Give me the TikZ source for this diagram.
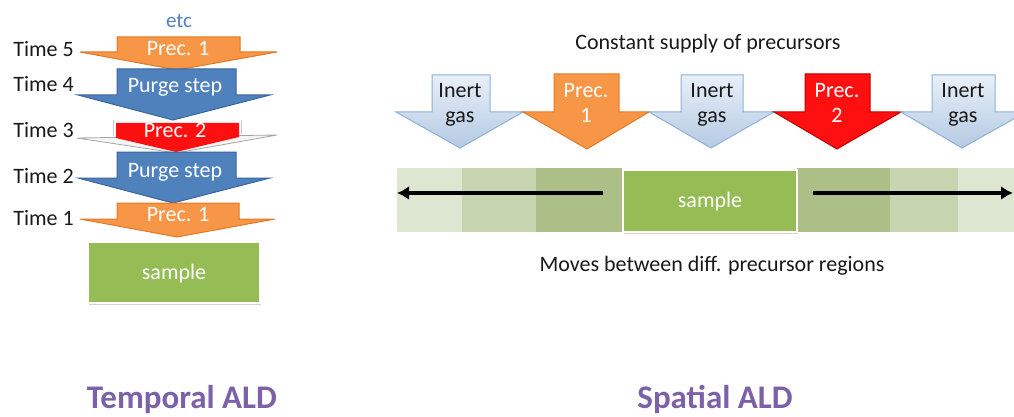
\documentclass[tikz,border=0pt]{standalone}
\usepackage{fontspec}
\setmainfont{Carlito}
\usetikzlibrary{arrows.meta,shadows}
\definecolor{orng}{HTML}{F79646}
\definecolor{orngdk}{HTML}{E07A2A}
\definecolor{blu}{HTML}{4F81BD}
\definecolor{bludk}{HTML}{3A66A0}
\definecolor{redd}{HTML}{FF1010}
\definecolor{reddk}{HTML}{C00000}
\definecolor{inertlt}{HTML}{E8EFF8}
\definecolor{inertdk}{HTML}{B5CAE3}
\definecolor{inertln}{HTML}{8DB0D9}
\definecolor{grn}{HTML}{95BC55}
\definecolor{bandA}{HTML}{DDE6D1}
\definecolor{bandB}{HTML}{C6D4AF}
\definecolor{bandC}{HTML}{ABBF87}
\definecolor{ttl}{HTML}{7C60A8}
\definecolor{etcblue}{HTML}{4F81BD}
\newcommand\dnarrow[9]{\draw[#1] (#2,#4) -- (#3,#4) -- (#3,#7) -- (#6,#7) -- (#8,#9) -- (#5,#7) -- (#2,#7) -- cycle;}
\begin{document}
\begin{tikzpicture}[x=1pt,y=-1pt,
  lbl/.style={font=\fontsize{22}{26}\selectfont, text=black!90, inner sep=0pt},
  wlbl/.style={font=\fontsize{22}{26}\selectfont, text=white, inner sep=0pt},
  orangearrow/.style={fill=orng, draw=orngdk, line width=1pt, line join=miter},
  bluearrow/.style={fill=blu, draw=bludk, line width=1pt},
  redarrow/.style={fill=redd, draw=reddk, line width=1pt},
  inertarrow/.style={top color=inertlt, bottom color=inertdk, draw=inertln, line width=1pt},
  samplebox/.style={fill=grn, draw=white, line width=2pt, drop shadow={shadow xshift=1pt, shadow yshift=-2pt, opacity=0.35}},
  title/.style={font=\fontsize{33}{38}\selectfont\bfseries, text=ttl, inner sep=0pt},
  motion/.style={line width=4.5pt, -{Latex[length=12pt,width=14pt]}}
]
\useasboundingbox (0,0) rectangle (1014,417);

% ---------- Temporal ALD ----------
\node[font=\fontsize{21}{24}\selectfont, text=etcblue, inner sep=0pt, anchor=base] (etc) at (179,28) {etc};

\dnarrow{orangearrow}{117}{240}{37}{80}{277}{52}{177}{70}
\dnarrow{bluearrow}{117}{236}{69}{78}{270}{95}{173}{120}
% Time 3 (flattened red arrow)
\draw[gray!70, line width=0.8pt, fill=gray!8] (77,138) -- (176,153) -- (277,135) -- cycle;
\draw[redarrow, draw=none] (116,123) -- (239,123) -- (239,137) -- (176,152) -- (116,138) -- cycle;
\draw[gray!40, line width=0.6pt] (113,120) -- (113,136) (241,120) -- (241,134);
\dnarrow{bluearrow}{117}{236}{152}{78}{270}{178}{173}{203}
\dnarrow{orangearrow}{117}{239}{203}{80}{275}{219}{177}{237}

\node[wlbl, anchor=base] (p5) at (178,56) {Prec. 1};
\node[wlbl, anchor=base] (p4) at (175,93) {Purge step};
\node[wlbl, anchor=base] (p3) at (175,137) {Prec. 2};
\node[wlbl, anchor=base] (p2) at (175,177) {Purge step};
\node[wlbl, anchor=base] (p1) at (178,221) {Prec. 1};

\node[lbl, anchor=base east] (t5) at (74,57) {Time 5};
\node[lbl, anchor=base east] (t4) at (74,92) {Time 4};
\node[lbl, anchor=base east] (t3) at (74,137) {Time 3};
\node[lbl, anchor=base east] (t2) at (74,183) {Time 2};
\node[lbl, anchor=base east] (t1) at (74,225) {Time 1};

\draw[samplebox] (88,242) rectangle (260,303);
\node[wlbl, anchor=base] (s1) at (174,279) {sample};

\node[title, anchor=base] (temporal) at (182,408) {Temporal ALD};

% ---------- Spatial ALD ----------
\node[lbl, anchor=base] (supply) at (708,50) {Constant supply of precursors};

\dnarrow{inertarrow}{432}{490}{75}{396}{523}{112}{460}{148}
\dnarrow{orangearrow}{554}{619}{74}{523}{649}{112}{587}{149}
\dnarrow{inertarrow}{681}{743}{75}{649}{774}{112}{711}{148}
\dnarrow{redarrow}{805}{870}{74}{774}{901}{112}{837}{149}
\dnarrow{inertarrow}{932}{995}{75}{901}{1026}{112}{962}{148}

\node[lbl, anchor=base] (i1a) at (460,98) {Inert};
\node[lbl, anchor=base] (i1b) at (460,123) {gas};
\node[wlbl, anchor=base] (q1a) at (586,98) {Prec.};
\node[wlbl, anchor=base] (q1b) at (586,123) {1};
\node[lbl, anchor=base] (i2a) at (712,98) {Inert};
\node[lbl, anchor=base] (i2b) at (712,123) {gas};
\node[wlbl, anchor=base] (q2a) at (837,98) {Prec.};
\node[wlbl, anchor=base] (q2b) at (837,123) {2};
\node[lbl, anchor=base] (i3a) at (963,98) {Inert};
\node[lbl, anchor=base] (i3b) at (963,123) {gas};

% band
\fill[bandA] (397,168) rectangle (462,232);
\fill[bandB] (462,168) rectangle (536,232);
\fill[bandC] (536,168) rectangle (622,232);
\fill[bandC] (797,168) rectangle (890,232);
\fill[bandB] (890,168) rectangle (958,232);
\fill[bandA] (958,168) rectangle (1014,232);
\draw[samplebox] (623,170) rectangle (797,232);
\node[wlbl, anchor=base] (s2) at (710,207) {sample};

\coordinate (lstart) at (603,193);
\coordinate (lend) at (397,193);
\coordinate (rstart) at (813,193);
\coordinate (rend) at (1013,193);
\draw[motion] (lstart) -- (lend);
\draw[motion] (rstart) -- (rend);

\node[lbl, anchor=base] (moves) at (712,271) {Moves between diff. precursor regions};

\node[title, anchor=base] (spatial) at (715,408) {Spatial ALD};
\end{tikzpicture}
\end{document}
